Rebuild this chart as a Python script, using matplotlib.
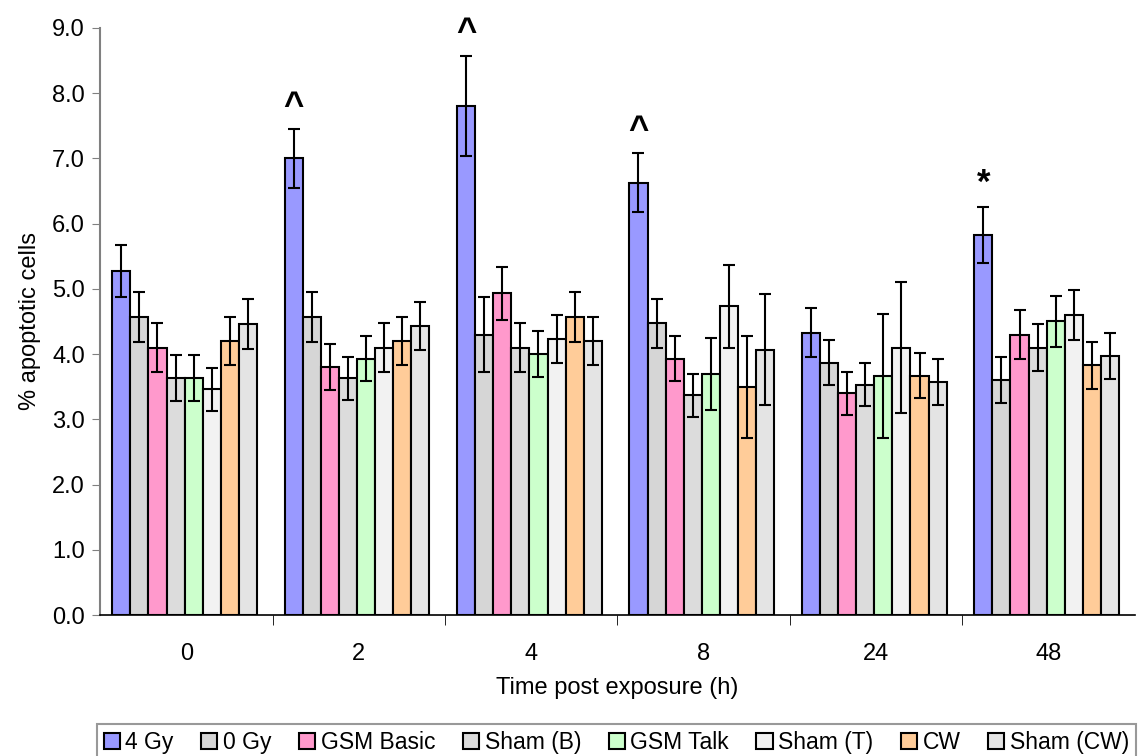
import numpy as np
import matplotlib.pyplot as plt

plt.rcParams['font.family'] = ['Liberation Sans', 'DejaVu Sans']

times = ["0", "2", "4", "8", "24", "48"]
groups = ["4 Gy", "0 Gy", "GSM Basic", "Sham (B)", "GSM Talk", "Sham (T)", "CW", "Sham (CW)"]
colors = ["#9999FF", "#D6D6D6", "#FF99CC", "#DCDCDC", "#CCFFCC", "#F2F2F2", "#FFCC99", "#E4E4E4"]

# mean % apoptotic cells per group, one value per time point
means = {
    "4 Gy":      [5.27, 7.00, 7.80, 6.63, 4.33, 5.83],
    "0 Gy":      [4.57, 4.57, 4.30, 4.47, 3.87, 3.60],
    "GSM Basic": [4.10, 3.80, 4.93, 3.93, 3.40, 4.30],
    "Sham (B)":  [3.63, 3.63, 4.10, 3.37, 3.53, 4.10],
    "GSM Talk":  [3.63, 3.93, 4.00, 3.70, 3.67, 4.50],
    "Sham (T)":  [3.46, 4.10, 4.23, 4.73, 4.10, 4.60],
    "CW":        [4.20, 4.20, 4.57, 3.50, 3.67, 3.83],
    "Sham (CW)": [4.46, 4.43, 4.20, 4.07, 3.57, 3.97],
}
errors = {
    "4 Gy":      [0.40, 0.45, 0.77, 0.45, 0.38, 0.43],
    "0 Gy":      [0.38, 0.38, 0.58, 0.38, 0.35, 0.35],
    "GSM Basic": [0.37, 0.35, 0.40, 0.35, 0.33, 0.37],
    "Sham (B)":  [0.35, 0.33, 0.37, 0.33, 0.33, 0.36],
    "GSM Talk":  [0.35, 0.35, 0.35, 0.55, 0.95, 0.39],
    "Sham (T)":  [0.33, 0.37, 0.37, 0.63, 1.00, 0.38],
    "CW":        [0.37, 0.37, 0.38, 0.78, 0.35, 0.36],
    "Sham (CW)": [0.38, 0.37, 0.37, 0.85, 0.35, 0.35],
}
# significance marks on the 4 Gy bars
marks = ["", "^", "^", "^", "", "*"]

fig = plt.figure(figsize=(11.38, 7.56), dpi=100)
ax = fig.add_axes([0.088, 0.1865, 0.909, 0.7765])

x = np.arange(len(times))
w = 0.105
for i, g in enumerate(groups):
    pos = x + (i - 3.5) * w - 0.01
    ax.bar(pos, means[g], w, color=colors[i], edgecolor="black", linewidth=1.5,
           yerr=errors[g], capsize=4, error_kw=dict(elinewidth=1.5, capthick=1.5, ecolor="black"),
           label=g, zorder=2)

pos0 = x - 3.5 * w - 0.01
for j, m in enumerate(marks):
    if m:
        top = means["4 Gy"][j] + errors["4 Gy"][j]
        ax.text(pos0[j], top + 0.1, m, ha="center", va="bottom",
                fontsize=25, fontweight="bold")

ax.set_xlim(-0.5, len(times) - 0.5)
ax.set_ylim(0, 9)
ax.set_yticks(np.arange(0, 9.1, 1.0))
ax.set_yticklabels([f"{v:.1f}" for v in np.arange(0, 9.1, 1.0)], fontsize=17)
ax.set_xticks(x)
ax.set_xticklabels(times, fontsize=17)
ax.set_xticks(np.arange(0.5, len(times) - 0.5, 1), minor=True)
ax.tick_params(axis="x", which="major", length=0, pad=20)
ax.tick_params(axis="x", which="minor", length=7, color="black")
ax.tick_params(axis="y", length=6, color="gray", pad=5)
ax.set_xlabel("Time post exposure (h)", fontsize=17, labelpad=9)
ax.set_ylabel("% apoptotic cells", fontsize=17, labelpad=8)
ax.spines["top"].set_visible(False)
ax.spines["right"].set_visible(False)
ax.spines["left"].set_color("gray")
ax.spines["left"].set_linewidth(1.5)
ax.spines["bottom"].set_linewidth(1.2)

leg = fig.legend(loc="upper left", bbox_to_anchor=(0.085, 1 - 724 / 756), ncol=8,
                 fontsize=16.5, frameon=True, fancybox=False, edgecolor="gray",
                 handlelength=0.7, handleheight=0.7, handletextpad=0.25,
                 columnspacing=1.2, borderpad=0.3, borderaxespad=0)
leg.get_frame().set_linewidth(1.5)

fig.savefig("out.png", dpi=100)
